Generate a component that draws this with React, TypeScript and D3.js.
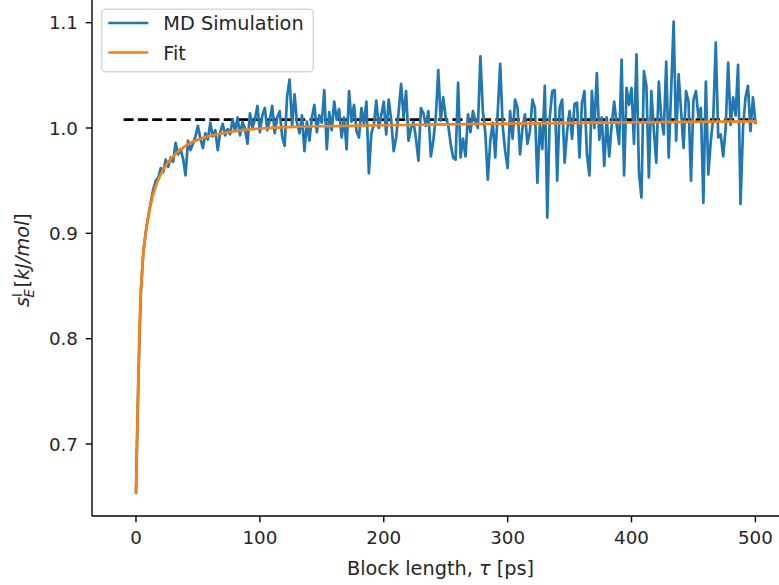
import React from "react";
import * as d3 from "d3";

// Block lengths (ps) of the MD series
const simTau: number[] = d3.range(0, 501, 2);
// MD Simulation values (every 2 ps)
const simS: number[] = [
  0.654, 0.766, 0.846, 0.883, 0.902, 0.917, 0.930, 0.942, 0.950, 0.953,
  0.962, 0.958, 0.970, 0.963, 0.972, 0.968, 0.986, 0.975, 0.980, 0.971,
  0.955, 0.988, 0.979, 0.985, 0.992, 1.002, 0.990, 0.981, 0.995, 0.989,
  1.005, 0.992, 0.998, 0.979, 0.996, 1.004, 0.993, 0.999, 0.994, 1.008,
  0.997, 1.010, 0.993, 1.006, 0.999, 0.985, 1.014, 1.000, 1.008, 1.021,
  0.996, 1.012, 1.019, 0.998, 1.008, 1.021, 0.995, 1.010, 1.016, 0.992,
  0.983, 1.030, 1.046, 1.002, 1.032, 1.005, 0.995, 1.012, 0.978, 1.006,
  0.988, 1.010, 1.022, 0.996, 1.012, 1.005, 1.036, 0.980, 1.015, 0.998,
  1.025, 1.008, 1.018, 0.991, 1.010, 0.980, 1.035, 1.006, 1.022, 0.997,
  0.991, 1.019, 1.004, 1.025, 0.957, 0.995, 1.003, 1.026, 1.000, 1.012,
  1.025, 0.994, 1.027, 1.008, 0.978, 0.991, 1.015, 1.042, 1.010, 1.035,
  0.988, 1.000, 1.006, 0.990, 0.969, 1.019, 1.014, 1.002, 1.016, 0.973,
  0.988, 1.010, 1.055, 1.007, 1.029, 1.010, 1.003, 0.985, 0.972, 0.970,
  1.043, 0.972, 0.990, 0.973, 1.013, 0.996, 1.016, 1.006, 1.000, 1.068,
  1.016, 0.995, 0.951, 0.988, 1.005, 0.972, 1.015, 1.061, 1.002, 0.978,
  0.962, 1.016, 0.990, 1.027, 1.019, 0.975, 1.000, 1.013, 0.985, 0.997,
  1.027, 1.019, 0.948, 1.003, 0.980, 1.040, 0.915, 1.010, 1.035, 1.036,
  0.950, 1.019, 1.027, 0.967, 0.997, 1.016, 0.990, 1.023, 1.024, 0.972,
  1.024, 1.035, 0.975, 0.955, 1.035, 1.000, 1.052, 0.989, 1.010, 0.964,
  1.010, 0.973, 1.003, 1.025, 1.003, 0.985, 1.065, 0.955, 1.038, 1.022,
  1.038, 0.985, 1.070, 0.958, 0.934, 1.054, 1.040, 0.953, 1.035, 0.998,
  0.967, 1.044, 1.010, 0.994, 1.063, 0.972, 1.036, 1.101, 0.988, 1.051,
  1.016, 0.981, 1.035, 1.025, 0.950, 1.027, 1.035, 1.010, 1.019, 0.929,
  1.044, 0.956, 0.988, 1.010, 1.081, 0.991, 0.994, 0.973, 1.000, 1.062,
  1.003, 1.029, 1.012, 1.060, 0.928, 1.000, 1.029, 1.040, 0.997, 1.029,
  1.005,
];

// Fit curve, read at selected block lengths
const fitTau: number[] = [0, 1, 2, 3, 4, 5, 6, 8, 10, 13, 16, 20, 25, 30, 40, 50, 65, 80, 100, 130, 160, 200, 250, 300, 400, 500];
const fitS: number[] = [0.654, 0.712, 0.765, 0.815, 0.845, 0.866, 0.882, 0.902, 0.916, 0.933, 0.945, 0.956, 0.966, 0.973, 0.983, 0.989, 0.994, 0.997, 0.9995, 1.0012, 1.0018, 1.0026, 1.0034, 1.0042, 1.0053, 1.0063];

// Reference (dashed) level
const refLevel = 1.008;
const refTauRange: number[] = [-10, 500];

const xTicks: number[] = [0, 100, 200, 300, 400, 500];
const yTicks: number[] = [0.7, 0.8, 0.9, 1.0, 1.1];

const seriesNames: string[] = ["MD Simulation", "Fit"];
const seriesColors: string[] = ["#1f77b4", "#ff7f0e"];

const W = 779;
const H = 585;
const FONT = "DejaVu Sans, Verdana, sans-serif";
const FS = 18.3;
const FS_LABEL = 19.3;

export default function App() {
  const left = 92, right = 787, top = -2, bottom = 516;
  const x = d3.scaleLinear().domain([-35.5, 525.5]).range([left, right]);
  const y = d3.scaleLinear().domain([0.6317, 1.1234]).range([bottom, top]);

  const simLine = d3
    .line<number>()
    .x((_, i) => x(simTau[i]))
    .y((d) => y(d))(simS) as string;

  const fitLine = d3
    .line<number>()
    .x((_, i) => x(fitTau[i]))
    .y((d) => y(d))
    .curve(d3.curveMonotoneX)(fitS) as string;

  const lw = 2.7;
  const tickLen = 6.3;

  return (
    <svg
      width={W}
      height={H}
      style={{ position: "absolute", left: 0, top: 0, background: "#fff" }}
      fontFamily={FONT}
    >
      <rect x={0} y={0} width={W} height={H} fill="#fff" />
      <defs>
        <clipPath id="plotclip">
          <rect x={left} y={top} width={right - left} height={bottom - top} />
        </clipPath>
      </defs>
      <g clipPath="url(#plotclip)">
        <line
          x1={x(refTauRange[0])}
          x2={x(refTauRange[1])}
          y1={y(refLevel)}
          y2={y(refLevel)}
          stroke="#000"
          strokeWidth={lw}
          strokeDasharray="10,4.3"
        />
        <path d={simLine} fill="none" stroke={seriesColors[0]} strokeWidth={lw} strokeLinejoin="round" strokeLinecap="square" />
        <path d={fitLine} fill="none" stroke={seriesColors[1]} strokeWidth={lw} strokeLinejoin="round" strokeLinecap="square" />
      </g>

      {/* spines */}
      <line x1={left} x2={left} y1={top} y2={bottom} stroke="#000" strokeWidth={1.4} />
      <line x1={left} x2={right} y1={bottom} y2={bottom} stroke="#000" strokeWidth={1.4} />
      <line x1={left} x2={right} y1={top} y2={top} stroke="#000" strokeWidth={1.4} />

      {/* x ticks */}
      {xTicks.map((t) => (
        <g key={"xt" + t}>
          <line x1={x(t)} x2={x(t)} y1={bottom} y2={bottom + tickLen} stroke="#000" strokeWidth={1.4} />
          <text x={x(t)} y={544} fontSize={FS} textAnchor="middle" fill="#262626">
            {t}
          </text>
        </g>
      ))}
      {/* y ticks */}
      {yTicks.map((t) => (
        <g key={"yt" + t}>
          <line x1={left - tickLen} x2={left} y1={y(t)} y2={y(t)} stroke="#000" strokeWidth={1.4} />
          <text x={78} y={y(t) + 6.6} fontSize={FS} textAnchor="end" fill="#262626">
            {t.toFixed(1)}
          </text>
        </g>
      ))}

      {/* x label */}
      <text x={(left + right) / 2 + 1} y={575} fontSize={FS_LABEL} textAnchor="middle" fill="#262626">
        Block length, <tspan fontStyle="italic">τ</tspan> [ps]
      </text>

      {/* y label */}
      <g transform="translate(29,259) rotate(-90)" fill="#262626" fontStyle="italic">
        <text x={-48} y={0} fontSize={FS_LABEL}>s</text>
        <text x={-38} y={-7.5} fontSize={13.2} fontStyle="normal">I</text>
        <text x={-38.5} y={5} fontSize={13.2}>E</text>
        <text x={-28.5} y={0} fontSize={FS_LABEL}>
          <tspan fontStyle="normal">[</tspan>kJ/mol<tspan fontStyle="normal">]</tspan>
        </text>
      </g>

      {/* legend */}
      <g>
        <rect x={101.7} y={9.3} width={211.6} height={62.4} rx={3.7} fill="#fff" fillOpacity={0.8} stroke="#cccccc" strokeOpacity={0.8} strokeWidth={1.4} />
        {seriesNames.map((n, i) => (
          <g key={n}>
            <line x1={108.3} x2={148.3} y1={23 + i * 29.5} y2={23 + i * 29.5} stroke={seriesColors[i]} strokeWidth={lw} />
            <text x={163.3} y={30 + i * 29.5} fontSize={FS_LABEL} fill="#262626">
              {n}
            </text>
          </g>
        ))}
      </g>
    </svg>
  );
}
